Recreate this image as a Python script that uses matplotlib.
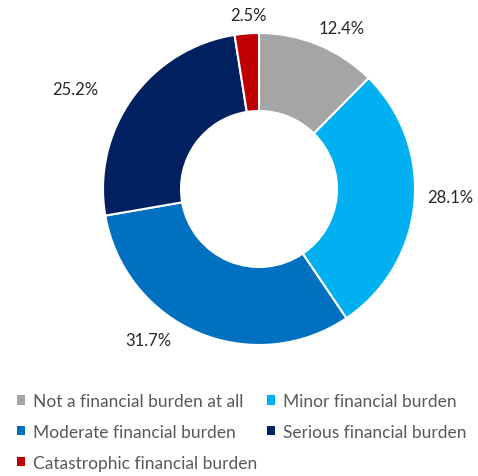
import numpy as np
import matplotlib
matplotlib.use("Agg")
import matplotlib.pyplot as plt
from matplotlib.patches import Patch

plt.rcParams['font.family'] = ['Lato', 'DejaVu Sans']

# data
categories = ['Not a financial burden at all', 'Minor financial burden',
              'Moderate financial burden', 'Serious financial burden',
              'Catastrophic financial burden']
shares = [12.4, 28.1, 31.7, 25.2, 2.5]
colors = ['#A5A5A5', '#00B0F0', '#0070C0', '#002060', '#C00000']

fig = plt.figure(figsize=(4.78, 4.77), dpi=100)
# pie centred at about (259, 190) px, outer radius ~156 px
cx, cy, r = 259 / 478, 1 - 190 / 477, 156
ax = fig.add_axes([cx - r / 478, cy - r / 477, 2 * r / 478, 2 * r / 477])

wedges, _ = ax.pie(shares, colors=colors, startangle=90, counterclock=False,
                   radius=1, wedgeprops=dict(width=0.5, edgecolor='white', linewidth=1.5))

# label placement (distance factor, angle shift in degrees), like Excel best fit
label_pos = [(1.16, -5), (1.23, 3), (1.20, -13), (1.34, 7), (1.12, -1)]
for w, v, (d, shift) in zip(wedges, shares, label_pos):
    ang = np.deg2rad((w.theta1 + w.theta2) / 2 + shift)
    ax.text(d * np.cos(ang), d * np.sin(ang), f'{v}%', ha='center', va='center',
            fontsize=12, color='#262626')

ax.set_xlim(-1, 1)
ax.set_ylim(-1, 1)
ax.set_aspect('equal')
ax.axis('off')

# legend filled row-wise like the original
handles = [Patch(facecolor=c, edgecolor='none') for c in colors]
order = [0, 2, 4, 1, 3]
leg = fig.legend([handles[i] for i in order], [categories[i] for i in order],
                 ncol=2, loc='upper left', bbox_to_anchor=(0.035, 0.174),
                 frameon=False, fontsize=12.5, handlelength=0.46, handleheight=0.46,
                 handletextpad=0.46, columnspacing=0.57, labelspacing=0.86,
                 borderaxespad=0, borderpad=0)
for t in leg.get_texts():
    t.set_color('#595959')

fig.savefig('out.png', dpi=100, facecolor='white')
